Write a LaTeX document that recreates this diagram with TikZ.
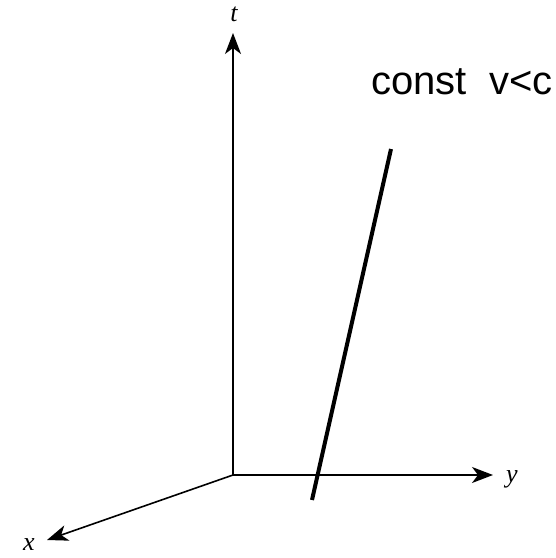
\documentclass[tikz,border=0pt]{standalone}
\usepackage{fontspec}
\setmainfont{Liberation Serif}
\setsansfont{Liberation Sans}
\usetikzlibrary{arrows.meta}

\tikzset{
  axis/.style={line width=1.6pt, -{Stealth[length=21pt, width=16pt, inset=6pt]}},
  axislabel/.style={font=\fontsize{26}{26}\selectfont\itshape, inner sep=0pt},
  worldline/.style={line width=4pt},
}

\begin{document}
\begin{tikzpicture}[x=1pt, y=-1pt]
    \useasboundingbox (0,0) rectangle (556,558);

    % Origin and axis ends
    \coordinate (o) at (233,475);
    \coordinate (tend) at (233,33);
    \coordinate (yend) at (493,475);
    \coordinate (xend) at (47,540);

    % Axis labels
    \node[axislabel] (tlab) at (234,14) {t};
    \node[axislabel] (ylab) at (512,479) {y};
    \node[axislabel] (xlab) at (29,545) {x};

    % Axes
    \draw[axis] (o) -- (tend);
    \draw[axis] (o) -- (yend);
    \draw[axis] (o) -- (xend);

    % Worldline
    \coordinate (wlbot) at (312,500);
    \coordinate (wltop) at (391,149);
    \draw[worldline] (wlbot) -- (wltop);

    % Label
    \node[font=\sffamily\fontsize{40}{40}\selectfont, inner sep=0pt] (vlab) at (462,82) {const\ \ v<c};
\end{tikzpicture}
\end{document}
